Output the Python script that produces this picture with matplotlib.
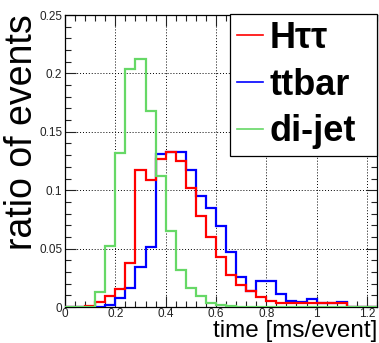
import numpy as np
import matplotlib
matplotlib.use("Agg")
import matplotlib.pyplot as plt
from matplotlib.lines import Line2D
from matplotlib.ticker import MultipleLocator

plt.rcParams['font.family'] = ['Liberation Sans', 'DejaVu Sans']

# 31 bins of 0.04 ms from 0 to 1.24
bin_edges = np.linspace(0, 1.24, 32)

# fraction of events per bin
htt = [0, 0, 0.001, 0.004, 0.009, 0.015, 0.038, 0.117, 0.109, 0.127,
       0.133, 0.125, 0.102, 0.078, 0.060, 0.043, 0.027, 0.019, 0.014, 0.0088,
       0.005, 0.003, 0.003, 0.003, 0.003, 0.003, 0.003, 0.003, 0, 0, 0]
ttbar = [0, 0, 0, 0, 0.002, 0.008, 0.016, 0.034, 0.051, 0.131,
         0.133, 0.133, 0.117, 0.095, 0.085, 0.069, 0.047, 0.026, 0.014, 0.022,
         0.022, 0.011, 0.005, 0.004, 0.0066, 0.003, 0.003, 0.0045, 0, 0, 0]
dijet = [0, 0, 0, 0.013, 0.052, 0.132, 0.204, 0.212, 0.168, 0.112,
         0.065, 0.032, 0.016, 0.009, 0.003, 0.002, 0.001, 0, 0, 0,
         0, 0, 0, 0, 0, 0, 0, 0, 0, 0, 0]

labels = ['H\u03c4\u03c4', 'ttbar', 'di-jet']
colors = ['#ff0000', '#0000ff', '#66d866']

fig = plt.figure(figsize=(3.79, 3.43), dpi=100)
ax = fig.add_axes([65/379, 36/343, 312/379, 292/343])

ax.stairs(ttbar, bin_edges, color=colors[1], lw=1.6, zorder=3)
ax.stairs(htt, bin_edges, color=colors[0], lw=1.6, zorder=4)
ax.stairs(dijet, bin_edges, color=colors[2], lw=1.6, zorder=5)

ax.set_xlim(0, 1.24)
ax.set_ylim(0, 0.25)
ax.xaxis.set_minor_locator(MultipleLocator(0.04))
ax.yaxis.set_minor_locator(MultipleLocator(0.01))
ax.set_xticks([0, 0.2, 0.4, 0.6, 0.8, 1.0, 1.2])
ax.set_xticklabels(['0', '0.2', '0.4', '0.6', '0.8', '1', '1.2'])
ax.set_yticks([0, 0.05, 0.1, 0.15, 0.2, 0.25])
ax.set_yticklabels(['0', '0.05', '0.1', '0.15', '0.2', '0.25'])
ax.tick_params(which='both', direction='in', top=True, right=True,
               labelsize=8.5, width=0.8, pad=2, colors='#222222')
ax.tick_params(axis='x', pad=1)
ax.tick_params(which='major', length=8)
ax.tick_params(which='minor', length=4)
ax.grid(True, which='major', color='black', lw=0.7, linestyle=(0, (1, 2)))
for s in ax.spines.values():
    s.set_linewidth(0.9)

# axis titles placed in figure pixels, ROOT style
fig.text(377/379, 0.5/343, 'time [ms/event]', fontsize=17.5, ha='right', va='bottom')
fig.text(4/379, 1 - 14/343, 'ratio of events', fontsize=27, rotation=90,
         ha='left', va='top')

handles = [Line2D([], [], color=c, lw=1.2) for c in colors]
leg = ax.legend(handles, labels, loc='upper left',
                bbox_to_anchor=(0.529, 0.507, 0.471, 0.497), mode='expand',
                borderaxespad=0, prop={'weight': 'bold', 'size': 26},
                handlelength=0.7, handletextpad=0.2, labelspacing=0.32,
                borderpad=0.2, fancybox=False, framealpha=1, edgecolor='black')
leg.get_frame().set_linewidth(0.9)
leg.set_zorder(10)

fig.savefig('out.png', dpi=100)
